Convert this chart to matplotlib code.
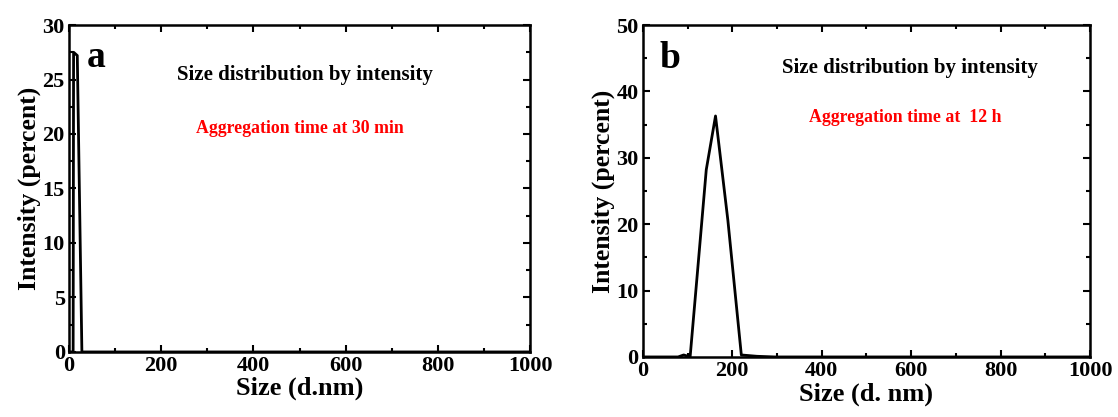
import matplotlib
matplotlib.use("Agg")
import matplotlib.pyplot as plt
from matplotlib.ticker import MultipleLocator

plt.rcParams['font.family'] = ['Liberation Serif', 'DejaVu Serif']
plt.rcParams['font.weight'] = 'bold'

# panel a: 30 min
size_a = [0, 9.0, 10.0, 18.0, 28.0, 1000]
inten_a = [0, 0, 27.5, 27.2, 0, 0]

# panel b: 12 h
size_b = [0, 78.8, 91.3, 105.7, 122.4, 141.8, 162.5, 190.1, 220.2, 255.0, 295.3, 1000]
inten_b = [0, 0, 0.3, 0, 13.0, 28.2, 36.3, 20.6, 0.3, 0.1, 0, 0]

fig = plt.figure(figsize=(11.18, 4.17), dpi=100)
ax1 = fig.add_axes([0.0617, 0.156, 0.4125, 0.784])
ax2 = fig.add_axes([0.575, 0.144, 0.400, 0.796])

def style(ax, ymax, ymaj, ymin, xlabel, xpad):
    ax.set_xlim(0, 1000)
    ax.set_ylim(0, ymax)
    ax.xaxis.set_major_locator(MultipleLocator(200))
    ax.xaxis.set_minor_locator(MultipleLocator(100))
    ax.yaxis.set_major_locator(MultipleLocator(ymaj))
    ax.yaxis.set_minor_locator(MultipleLocator(ymin))
    ax.tick_params(which='both', direction='in', top=True, right=True, width=1.5)
    ax.tick_params(which='major', length=5, labelsize=16, pad=3)
    ax.tick_params(which='minor', length=3)
    for s in ax.spines.values():
        s.set_linewidth(1.8)
    ax.set_xlabel(xlabel, fontsize=19, fontweight='bold', labelpad=xpad)
    ax.set_ylabel('Intensity (percent)', fontsize=18.5, fontweight='bold', labelpad=1)

ax1.plot(size_a, inten_a, color='black', lw=2)
style(ax1, 30, 5, 2.5, 'Size (d.nm)', 0)
ax1.text(38, 27, 'a', fontsize=27, fontweight='bold', va='center')
ax1.text(512, 25.4, 'Size distribution by intensity', fontsize=15, fontweight='bold', ha='center', va='center')
ax1.text(500, 20.5, 'Aggregation time at 30 min', fontsize=12.8, fontweight='bold', color='red', ha='center', va='center')

ax2.plot(size_b, inten_b, color='black', lw=2)
style(ax2, 50, 10, 5, 'Size (d. nm)', 1)
ax2.text(38, 45, 'b', fontsize=27, fontweight='bold', va='center')
ax2.text(597, 43.5, 'Size distribution by intensity', fontsize=15, fontweight='bold', ha='center', va='center')
ax2.text(586, 36, 'Aggregation time at  12 h', fontsize=12.8, fontweight='bold', color='red', ha='center', va='center')

fig.savefig('out.png', dpi=100)
